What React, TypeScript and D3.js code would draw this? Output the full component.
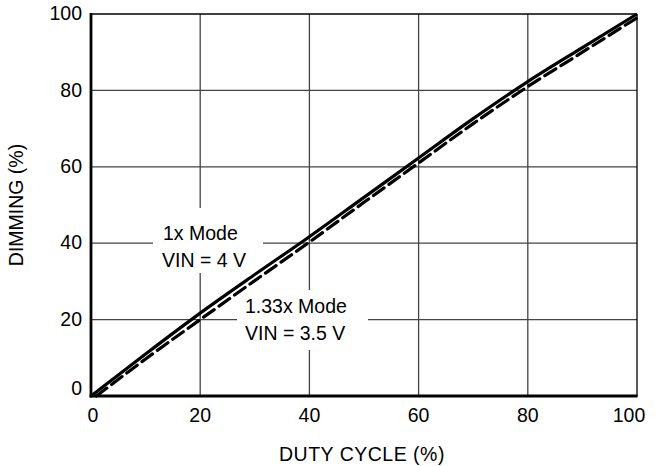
import React from "react";
import * as d3 from "d3";

const xTicks = [0, 20, 40, 60, 80, 100];
const yTicks = [0, 20, 40, 60, 80, 100];
const duty = [0, 10, 20, 30, 40, 50, 60, 70, 80, 90, 100];
const mode1x = [0, 11, 21.7, 31.8, 41.7, 52, 62.3, 72.6, 82.3, 91.2, 100];
const dutyDashed = [1, 10, 20, 30, 40, 50, 60, 70, 80, 90, 100];
const mode133x = [0, 9.7, 20, 30.2, 40.3, 50.7, 61, 71.3, 81, 90, 99];

const W = 658;
const H = 466;
const left = 91;
const right = 637;
const top = 14;
const bottom = 396;
const FONT = "'Liberation Sans', Arial, Helvetica, sans-serif";

export default function App() {
  const x = d3.scaleLinear().domain([0, 100]).range([left, right]);
  const y = d3.scaleLinear().domain([0, 100]).range([bottom, top]);
  const line = d3
    .line<[number, number]>()
    .x((d) => x(d[0]))
    .y((d) => y(d[1]))
    .curve(d3.curveMonotoneX);
  const solidPts = duty.map((d, i) => [d, mode1x[i]] as [number, number]);
  const dashPts = dutyDashed.map((d, i) => [d, mode133x[i]] as [number, number]);

  return (
    <svg
      width={W}
      height={H}
      style={{ position: "absolute", left: 0, top: 0, background: "#fff" }}
      fontFamily={FONT}
    >
      {/* grid */}
      {xTicks
        .filter((t) => t > 0 && t < 100)
        .map((t) => (
          <line key={"gx" + t} x1={x(t)} x2={x(t)} y1={top} y2={bottom} stroke="#444" strokeWidth={1.3} />
        ))}
      {yTicks
        .filter((t) => t > 0 && t < 100)
        .map((t) => (
          <line key={"gy" + t} x1={left} x2={right} y1={y(t)} y2={y(t)} stroke="#444" strokeWidth={1.3} />
        ))}
      {/* frame */}
      <line x1={left} x2={right} y1={top} y2={top} stroke="#000" strokeWidth={1.3} />
      <line x1={right} x2={right} y1={top} y2={bottom} stroke="#000" strokeWidth={1.3} />

      {/* annotation boxes */}
      <rect x={153} y={208} width={110} height={65} fill="#fff" />
      <rect x={237} y={290} width={131} height={60} fill="#fff" />

      {/* series */}
      <path d={line(dashPts) || ""} fill="none" stroke="#000" strokeWidth={3.2} strokeDasharray="13,6" strokeLinecap="round" />
      <path d={line(solidPts) || ""} fill="none" stroke="#000" strokeWidth={3.2} />

      {/* axes */}
      <line x1={left} x2={left} y1={top - 1} y2={bottom + 1.5} stroke="#000" strokeWidth={2.8} />
      <line x1={left - 1.4} x2={right + 0.6} y1={bottom} y2={bottom} stroke="#000" strokeWidth={2.8} />

      {/* tick labels */}
      {yTicks.map((t) => (
        <text
          key={"yt" + t}
          x={82}
          y={y(t) + (t === 0 ? -6 : 1)}
          textAnchor="end"
          dominantBaseline="middle"
          fontSize={19.5}
          fill="#000"
        >
          {t}
        </text>
      ))}
      {xTicks.map((t) => (
        <text
          key={"xt" + t}
          x={x(t) + (t === 100 ? -8 : t === 0 ? 2 : 0)}
          y={422}
          textAnchor="middle"
          fontSize={19.5}
          fill="#000"
        >
          {t}
        </text>
      ))}

      {/* axis titles */}
      <text x={362} y={461} textAnchor="middle" fontSize={19.5} letterSpacing={0.5} fill="#000">
        DUTY CYCLE (%)
      </text>
      <text
        transform={`translate(23, ${(top + bottom) / 2}) rotate(-90)`}
        textAnchor="middle"
        fontSize={19.5}
        fill="#000"
      >
        DIMMING (%)
      </text>

      {/* annotations */}
      <text x={163} y={240} fontSize={19.5} fill="#000">1x Mode</text>
      <text x={162} y={267} fontSize={19.5} fill="#000">VIN = 4 V</text>
      <text x={245} y={313} fontSize={19.5} fill="#000">1.33x Mode</text>
      <text x={245} y={340} fontSize={19.5} fill="#000">VIN = 3.5 V</text>
    </svg>
  );
}
